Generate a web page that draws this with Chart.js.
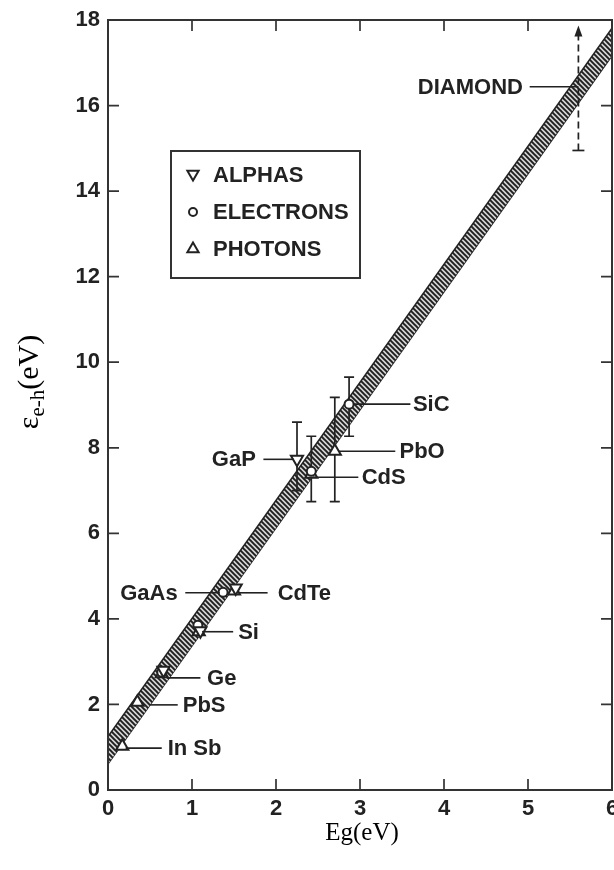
<!DOCTYPE html>
<html>
<head>
<meta charset="utf-8">
<script src="https://cdn.jsdelivr.net/npm/chart.js@4.4.1/dist/chart.umd.min.js"></script>
<style>
html,body{margin:0;padding:0;background:#fff;}
canvas{display:block;}
</style>
</head>
<body>
<canvas id="c" width="614" height="870"></canvas>
<script>
// ---- data ----
const xTicks = [0, 1, 2, 3, 4, 5, 6];
const yTicks = [0, 2, 4, 6, 8, 10, 12, 14, 16, 18];

// Alphas (down triangles): Ge, Si, CdTe, GaP
const alphaEg  = [0.66, 1.10, 1.52, 2.25];
const alphaEps = [2.80, 3.72, 4.72, 7.73];
// Electrons (circles): Ge, Si, GaAs, CdS, SiC
const electronEg  = [0.64, 1.07, 1.37, 2.42, 2.87];
const electronEps = [2.75, 3.85, 4.62, 7.45, 9.02];
// Photons (up triangles): InSb, PbS, Ge, Si, CdTe, CdS, PbO
const photonEg  = [0.17, 0.35, 0.64, 1.08, 1.50, 2.42, 2.70];
const photonEps = [1.02, 2.05, 2.72, 3.70, 4.65, 7.38, 7.92];

// Error bars: GaP, CdS, PbO, SiC
const errEg   = [2.25, 2.42, 2.70, 2.87];
const errLow  = [7.00, 6.74, 6.74, 8.27];
const errHigh = [8.60, 8.27, 9.18, 9.65];
// Diamond (dashed range with arrow)
const diamondEg = 5.6;
const diamondLow = 14.95;
const diamondHigh = 17.8;

// Hatched band: eps = a + b*Eg, +/- half width
const bandEg = [0, 6];
const bandLow  = [0.61, 17.17];
const bandHigh = [1.25, 17.81];

// Material labels
const labelText  = ['DIAMOND', 'SiC', 'PbO', 'CdS', 'GaP', 'GaAs', 'CdTe', 'Si', 'Ge', 'PbS', 'In Sb'];
const labelEps   = [16.44, 9.02, 7.92, 7.31, 7.73, 4.61, 4.61, 3.70, 2.62, 1.99, 0.98];
const lineFromEg = [5.02, 2.92, 2.74, 2.44, 1.85, 0.92, 1.56, 1.12, 0.70, 0.50, 0.21];
const lineToEg   = [5.60, 3.60, 3.42, 2.98, 2.21, 1.33, 1.90, 1.49, 1.10, 0.83, 0.64];
const textEg     = [4.94, 3.63, 3.47, 3.02, 1.76, 0.83, 2.02, 1.55, 1.18, 0.89, 0.71];
const textSide   = ['right', 'left', 'left', 'left', 'right', 'right', 'left', 'left', 'left', 'left', 'left'];

const legendNames = ['ALPHAS', 'ELECTRONS', 'PHOTONS'];

// ---- build ----
const pts = (xs, ys) => xs.map((x, i) => ({x: x, y: ys[i]}));
const INK = '#222';
const SANS = '"Liberation Sans", Arial, sans-serif';
const SERIF = '"Liberation Serif", "Times New Roman", serif';
const LABEL_FONT = 'bold 22px ' + SANS;

function makeHatch() {
  const c = document.createElement('canvas');
  c.width = 5; c.height = 5;
  const g = c.getContext('2d');
  g.fillStyle = '#d4d4d4';
  g.fillRect(0, 0, 5, 5);
  g.strokeStyle = '#1e1e1e';
  g.lineWidth = 1.9;
  g.beginPath();
  g.moveTo(-1, -1); g.lineTo(6, 6);
  g.moveTo(-1, 4); g.lineTo(1, 6);
  g.moveTo(4, -1); g.lineTo(6, 1);
  g.stroke();
  return g.createPattern(c, 'repeat');
}
const hatch = makeHatch();

const markerCommon = {
  showLine: false,
  pointRadius: 7,
  pointHoverRadius: 7,
  pointBorderWidth: 2,
  pointBorderColor: INK,
  pointBackgroundColor: '#fff',
  order: 0
};

const overlay = {
  id: 'overlay',
  afterDatasetDraw(chart, args) {
    if (args.index !== 4) return; // after the band is drawn
    const ctx = chart.ctx, xs = chart.scales.x, ys = chart.scales.y;
    ctx.save();
    ctx.strokeStyle = INK;
    ctx.lineWidth = 1.7;
    for (let i = 0; i < errEg.length; i++) {
      const px = xs.getPixelForValue(errEg[i]);
      const y1 = ys.getPixelForValue(errLow[i]);
      const y2 = ys.getPixelForValue(errHigh[i]);
      ctx.beginPath();
      ctx.moveTo(px, y1); ctx.lineTo(px, y2);
      ctx.moveTo(px - 5, y1); ctx.lineTo(px + 5, y1);
      ctx.moveTo(px - 5, y2); ctx.lineTo(px + 5, y2);
      ctx.stroke();
    }
    // diamond dashed range
    const dx = xs.getPixelForValue(diamondEg);
    const dl = ys.getPixelForValue(diamondLow);
    const dh = ys.getPixelForValue(diamondHigh);
    ctx.setLineDash([7, 4]);
    ctx.beginPath();
    ctx.moveTo(dx, dl); ctx.lineTo(dx, dh + 6);
    ctx.stroke();
    ctx.setLineDash([]);
    ctx.beginPath();
    ctx.moveTo(dx - 6, dl); ctx.lineTo(dx + 6, dl);
    ctx.stroke();
    ctx.fillStyle = INK;
    ctx.beginPath();
    ctx.moveTo(dx, dh - 3); ctx.lineTo(dx - 4, dh + 8); ctx.lineTo(dx + 4, dh + 8);
    ctx.closePath();
    ctx.fill();
    ctx.restore();
  },
  afterDatasetsDraw(chart) {
    const ctx = chart.ctx, xs = chart.scales.x, ys = chart.scales.y;
    ctx.save();
    ctx.strokeStyle = INK;
    ctx.fillStyle = INK;
    ctx.lineWidth = 1.6;
    ctx.font = LABEL_FONT;
    ctx.textBaseline = 'middle';
    for (let i = 0; i < labelText.length; i++) {
      const py = ys.getPixelForValue(labelEps[i]);
      ctx.beginPath();
      ctx.moveTo(xs.getPixelForValue(lineFromEg[i]), py);
      ctx.lineTo(xs.getPixelForValue(lineToEg[i]), py);
      ctx.stroke();
      ctx.textAlign = textSide[i];
      ctx.fillText(labelText[i], xs.getPixelForValue(textEg[i]), py + 1);
    }
    ctx.restore();
  },
  afterDraw(chart) {
    const ctx = chart.ctx, a = chart.chartArea, xs = chart.scales.x, ys = chart.scales.y;
    ctx.save();
    // frame
    ctx.strokeStyle = '#333';
    ctx.lineWidth = 2;
    ctx.strokeRect(a.left, a.top, a.right - a.left, a.bottom - a.top);
    // inward ticks
    const T = 11;
    ctx.lineWidth = 1.7;
    ctx.beginPath();
    xTicks.forEach(v => {
      const px = xs.getPixelForValue(v);
      ctx.moveTo(px, a.bottom); ctx.lineTo(px, a.bottom - T);
      ctx.moveTo(px, a.top); ctx.lineTo(px, a.top + T);
    });
    yTicks.forEach(v => {
      const py = ys.getPixelForValue(v);
      ctx.moveTo(a.left, py); ctx.lineTo(a.left + T, py);
      ctx.moveTo(a.right, py); ctx.lineTo(a.right - T, py);
    });
    ctx.stroke();

    // x tick labels
    ctx.fillStyle = INK;
    ctx.font = LABEL_FONT;
    ctx.textAlign = 'center';
    ctx.textBaseline = 'middle';
    xTicks.forEach(v => {
      ctx.fillText(String(v), xs.getPixelForValue(v), a.bottom + 19);
    });

    // legend box
    const L = {left: 171, top: 151, right: 360, bottom: 278};
    ctx.lineWidth = 2;
    ctx.strokeStyle = '#333';
    ctx.strokeRect(L.left, L.top, L.right - L.left, L.bottom - L.top);
    const rows = [175, 212, 249];
    const styles = [
      {pointStyle: 'triangle', rotation: 180, radius: 6.5, borderWidth: 2},
      {pointStyle: 'circle', rotation: 0, radius: 4, borderWidth: 2},
      {pointStyle: 'triangle', rotation: 0, radius: 6.5, borderWidth: 2}
    ];
    ctx.font = 'bold 22px ' + SANS;
    ctx.textBaseline = 'middle';
    ctx.textAlign = 'left';
    legendNames.forEach((name, i) => {
      ctx.fillStyle = '#fff';
      ctx.strokeStyle = INK;
      ctx.lineWidth = 2;
      Chart.helpers.drawPoint(ctx, styles[i], 193, rows[i] + (i === 0 ? -1 : 0));
      ctx.fillStyle = INK;
      ctx.fillText(name, 213, rows[i] + 1);
    });

    // axis titles
    ctx.fillStyle = '#000';
    ctx.font = '25px ' + SERIF;
    ctx.textAlign = 'center';
    ctx.textBaseline = 'alphabetic';
    ctx.fillText('Eg(eV)', 362, 840);

    ctx.translate(38, 382);
    ctx.rotate(-Math.PI / 2);
    ctx.textAlign = 'left';
    const big = '30px ' + SERIF, small = '21px ' + SERIF;
    ctx.font = big; const w1 = ctx.measureText('\u03b5').width;
    ctx.font = small; const w2 = ctx.measureText('e-h').width;
    ctx.font = big; const w3 = ctx.measureText('(eV)').width;
    let x0 = -(w1 + w2 + w3) / 2;
    ctx.font = big; ctx.fillText('\u03b5', x0, 0);
    ctx.font = small; ctx.fillText('e-h', x0 + w1, 6);
    ctx.font = big; ctx.fillText('(eV)', x0 + w1 + w2, 0);
    ctx.restore();
  }
};

new Chart(document.getElementById('c'), {
  type: 'scatter',
  data: {
    datasets: [
      Object.assign({label: 'ALPHAS', data: pts(alphaEg, alphaEps), pointStyle: 'triangle', rotation: 180}, markerCommon),
      Object.assign({label: 'ELECTRONS', data: pts(electronEg, electronEps), pointStyle: 'circle'}, markerCommon, {pointRadius: 4.5, pointHoverRadius: 4.5}),
      Object.assign({label: 'PHOTONS', data: pts(photonEg, photonEps), pointStyle: 'triangle'}, markerCommon),
      {
        label: 'band-low', data: pts(bandEg, bandLow), showLine: true, pointRadius: 0,
        borderColor: '#222', borderWidth: 1.6, fill: false, order: 10
      },
      {
        label: 'band-high', data: pts(bandEg, bandHigh), showLine: true, pointRadius: 0,
        borderColor: '#222', borderWidth: 1.6, fill: '-1', backgroundColor: hatch, order: 9
      }
    ]
  },
  options: {
    responsive: false,
    animation: false,
    devicePixelRatio: 1,
    events: [],
    layout: {autoPadding: false, padding: {top: 20, right: 2, left: 0, bottom: 0}},
    plugins: {legend: {display: false}, tooltip: {enabled: false}},
    scales: {
      x: {
        type: 'linear', min: 0, max: 6,
        afterBuildTicks: s => { s.ticks = xTicks.map(v => ({value: v})); },
        afterFit: s => { s.height = 80; s.paddingLeft = 0; s.paddingRight = 0; },
        grid: {display: false, drawTicks: false},
        border: {display: false},
        ticks: {display: false}
      },
      y: {
        type: 'linear', min: 0, max: 18,
        afterBuildTicks: s => { s.ticks = yTicks.map(v => ({value: v})); },
        afterFit: s => { s.width = 108; s.paddingTop = 0; s.paddingBottom = 0; },
        grid: {display: false, drawTicks: false},
        border: {display: false},
        ticks: {color: INK, font: {family: SANS, size: 22, weight: 'bold'}, padding: 8}
      }
    }
  },
  plugins: [overlay]
});
</script>
</body>
</html>
